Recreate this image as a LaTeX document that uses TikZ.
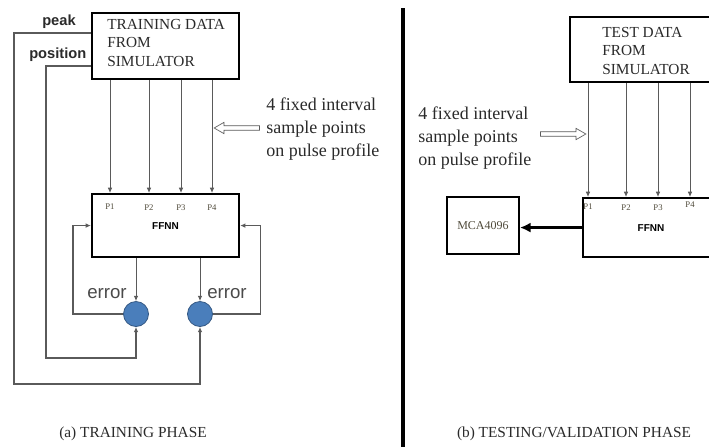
\documentclass[tikz,border=0pt]{standalone}
\usepackage{fontspec}
\setmainfont{Liberation Serif}
\setsansfont{Liberation Sans}
\usetikzlibrary{arrows.meta,calc,shapes.arrows}

\definecolor{linegray}{HTML}{5A5A5A}
\definecolor{txtdark}{HTML}{2A2A2A}
\definecolor{errgray}{HTML}{4A4A4A}
\definecolor{pincol}{HTML}{4F4A3A}
\definecolor{errblue}{HTML}{4A7EBB}

\begin{document}
\begin{tikzpicture}[x=0.75pt,y=-0.75pt,
    box/.style={draw=black, line width=1.6pt, inner sep=0pt, anchor=north west},
    boxtext/.style={anchor=north west, inner sep=0pt, align=left,
                    font=\fontsize{11.5}{13.8}\selectfont, text=txtdark},
    note/.style={anchor=north west, inner sep=0pt, align=left,
                 font=\fontsize{13.5}{17.2}\selectfont, text=txtdark},
    tag/.style={anchor=base west, inner sep=0pt,
                font=\sffamily\bfseries\fontsize{11}{13}\selectfont, text=txtdark},
    errlab/.style={anchor=base west, inner sep=0pt,
                   font=\sffamily\fontsize{14}{16}\selectfont, text=errgray},
    pin/.style={inner sep=0pt, font=\fontsize{6.5}{7}\selectfont, text=pincol},
    netlab/.style={font=\sffamily\bfseries\fontsize{7.5}{8}\selectfont},
    sig/.style={draw=linegray, line width=0.7pt, -{Latex[length=4pt,width=3.5pt]}},
    fb/.style={draw=linegray, line width=0.8pt, -{Latex[length=4pt,width=3.5pt]}},
    hollow/.style={single arrow, draw=linegray, line width=0.5pt, fill=white,
                   inner sep=1.4pt, minimum height=34pt, single arrow head extend=2.6pt,
                   single arrow tip angle=60, anchor=tip},
    errnode/.style={circle, fill=errblue, draw=errblue!70!black, line width=0.6pt,
                    minimum size=18.75pt, inner sep=0pt},
    caption/.style={inner sep=0pt, font=\fontsize{11.5}{13}\selectfont, text=txtdark}
]
\clip (0,0) rectangle (709,447);

% (a) training phase
\node[box, minimum width=110.25pt, minimum height=49.5pt] (train) at (91,12) {};
\node[boxtext] (traintxt) at (107,19) {TRAINING DATA\\FROM\\SIMULATOR};
\node[box, netlab, minimum width=110.25pt, minimum height=47.25pt] (ffnna) at (91,193) {FFNN};
\foreach \x/\p/\y in {110/1/207,149/2/208,181/3/208,212/4/208}{
  \draw[sig] (train.south -| \x,0) -- (ffnna.north -| \x,0);
  \node[pin] (pa\p) at (\x,\y) {P\p};
}
\node[errnode] (erra) at (136,314) {};
\node[errnode] (errb) at (200,314) {};
\draw[sig] (ffnna.south -| erra) -- (erra.north);
\draw[sig] (ffnna.south -| errb) -- (errb.north);
\draw[fb] (erra.west) -| ($(ffnna.west)+(-18,0)$) -- (ffnna.west);
\draw[fb] (errb.east) -| ($(ffnna.east)+(20,0)$) -- (ffnna.east);
\node[errlab] (erratxt) at (87,298) {error};
\node[errlab] (errbtxt) at (207,298) {error};
\draw[fb] ($(train.north west)+(0,21)$) -- (14,33) -- (14,384) -| (errb.south);
\draw[fb] ($(train.north west)+(0,54)$) -- (46,66) -- (46,358) -| (erra.south);
\node[tag] (peak) at (42,25) {peak};
\node[tag] (posn) at (29,58) {position};
\node[note] (fixa) at (266,98) {4 fixed interval\\sample points\\on pulse profile};
\coordinate (tipa) at (213.5,128);
\node[hollow, shape border rotate=180] (arra) at (tipa) {};
\node[caption] (capa) at (133,434) {(a) TRAINING PHASE};

% divider
\draw[line width=2.3pt] (403,8) -- (403,447);

% (b) testing/validation phase
\node[box, minimum width=128.25pt, minimum height=48.75pt] (test) at (569,16) {};
\node[boxtext] (testtxt) at (602,27) {TEST DATA\\FROM\\SIMULATOR};
\node[box, netlab, minimum width=102pt, minimum height=44.25pt] (ffnnb) at (582,197) {FFNN};
\foreach \x/\p/\y in {588/1/207,626/2/208,658/3/208,690/4/205}{
  \draw[sig] (test.south -| \x,0) -- (ffnnb.north -| \x,0);
  \node[pin] (pb\p) at (\x,\y) {P\p};
}
\node[box, line width=1.4pt, minimum width=54pt, minimum height=42.75pt,
      font=\fontsize{9}{10}\selectfont, text=pincol] (mca) at (446,196) {MCA4096};
\draw[line width=2pt, -{Latex[length=8pt,width=7.5pt]}] (ffnnb.west) -- (mca.east |- ffnnb.west);
\node[note] (fixb) at (418,107) {4 fixed interval\\sample points\\on pulse profile};
\coordinate (tipb) at (586.5,134);
\node[hollow] (arrb) at (tipb) {};
\node[caption] (capb) at (574,434) {(b) TESTING/VALIDATION PHASE};

\end{tikzpicture}
\end{document}
